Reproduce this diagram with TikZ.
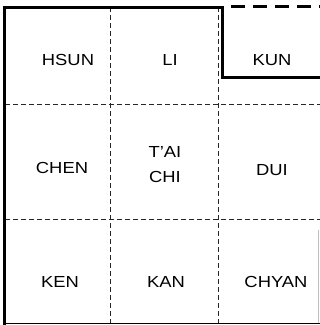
\documentclass[tikz,border=0pt]{standalone}
\usepackage{fontspec}
\setmainfont{Liberation Sans}
\begin{document}
\begin{tikzpicture}[x=1pt,y=-1pt,
  lbl/.style={font=\fontsize{16}{25}\selectfont, align=center, inner sep=0pt, xscale=1.15},
  grid/.style={line width=0.9pt, dash pattern=on 5pt off 3pt, black!85},
  wall/.style={line width=3pt, line cap=butt, line join=miter}]
\useasboundingbox (0,0) rectangle (320,325);
\fill[white] (0,0) rectangle (320,325);
% grid lines
\draw[grid] (110,7) -- (110,323);
\draw[grid] (218,7) -- (218,323);
\draw[grid] (5,104) -- (320,104);
\draw[grid] (5,219) -- (320,219);
% outer walls
\draw[wall] (5,325) -- (5,7) -- (223,7) -- (223,77) -- (320,77);
\draw[wall, dash pattern=on 14pt off 8pt] (231,6.5) -- (320,6.5);
\draw[line width=1.6pt] (5,323.5) -- (320,323.5);
\draw[line width=0.5pt, black!25] (318,230) -- (318,323);
% labels
\node[lbl] (hsun) at (68,60) {HSUN};
\node[lbl] (li) at (170,60) {LI};
\node[lbl] (kun) at (272,60) {KUN};
\node[lbl] (chen) at (62,168) {CHEN};
\node[lbl] (taichi) at (165,165) {T'AI\\CHI};
\node[lbl] (dui) at (272,170) {DUI};
\node[lbl] (ken) at (60,282) {KEN};
\node[lbl] (kan) at (166,282) {KAN};
\node[lbl] (chyan) at (276,282) {CHYAN};
\end{tikzpicture}
\end{document}
